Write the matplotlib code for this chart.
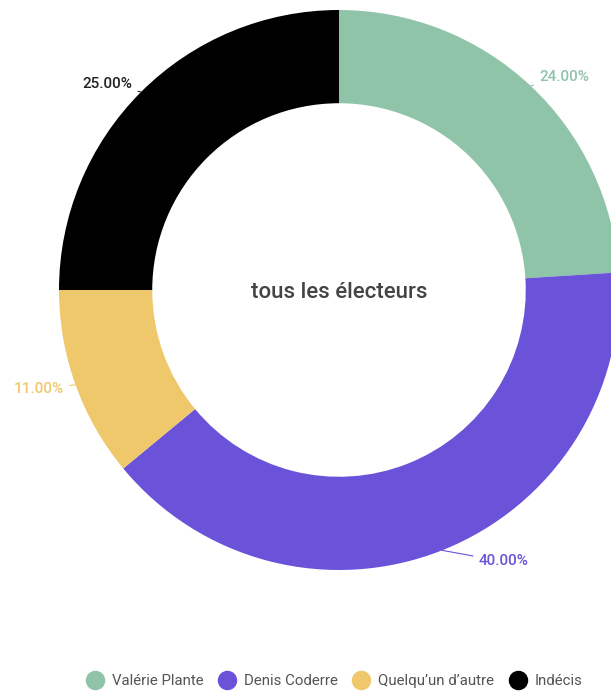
import numpy as np
import matplotlib.pyplot as plt
from matplotlib.lines import Line2D

# share of voters per candidate
labels = ['Valérie Plante', 'Denis Coderre', "Quelqu\u2019un d\u2019autre", 'Indécis']
values = [24.0, 40.0, 11.0, 25.0]
colors = ['#8fc4a9', '#6b53d9', '#eec86a', '#000000']
label_colors = ['#8fc4a9', '#6b53d9', '#eec86a', '#222222']
# extra horizontal nudge of each percentage label (pixels)
label_nudge = [0, 32, 0, 0]

plt.rcParams['font.family'] = ['Roboto', 'DejaVu Sans']

W, H = 611, 691
fig = plt.figure(figsize=(W / 100, H / 100), dpi=100)
ax = fig.add_axes([0, 0, 1, 1])

cx, cy, R = 339, H - 290, 280
wedges, _ = ax.pie(values, colors=colors, startangle=90, counterclock=False,
                   radius=R, center=(cx, cy), frame=True,
                   wedgeprops=dict(width=R * 0.333, linewidth=0))
ax.set_xlim(0, W)
ax.set_ylim(0, H)
ax.set_aspect('equal')
ax.axis('off')

# percentage labels with short leader lines
for w, v, lc, dx in zip(wedges, values, label_colors, label_nudge):
    ang = np.deg2rad((w.theta1 + w.theta2) / 2)
    x0, y0 = cx + R * np.cos(ang), cy + R * np.sin(ang)
    x1, y1 = cx + (R + 12) * np.cos(ang) + dx, cy + (R + 12) * np.sin(ang)
    ha = 'left' if np.cos(ang) > 0 else 'right'
    ax.annotate(f'{v:.2f}%', xy=(x0, y0), xytext=(x1, y1),
                ha=ha, va='center', fontsize=11, fontweight='medium', color=lc,
                arrowprops=dict(arrowstyle='-', color=lc, lw=0.8,
                                shrinkA=2, shrinkB=0))

ax.text(cx, cy - 2, 'tous les électeurs', ha='center', va='center',
        fontsize=16, fontweight='medium', color='#444444')

handles = [Line2D([], [], marker='o', linestyle='', markersize=13,
                  markerfacecolor=c, markeredgecolor=c) for c in colors]
fig.legend(handles, labels, loc='center', bbox_to_anchor=(0.547, 1 - 681 / H),
           ncol=4, frameon=False, fontsize=10.8, labelcolor='#555555',
           handletextpad=0.55, columnspacing=0.95, handlelength=1.2)

fig.savefig('out.png', dpi=100)
